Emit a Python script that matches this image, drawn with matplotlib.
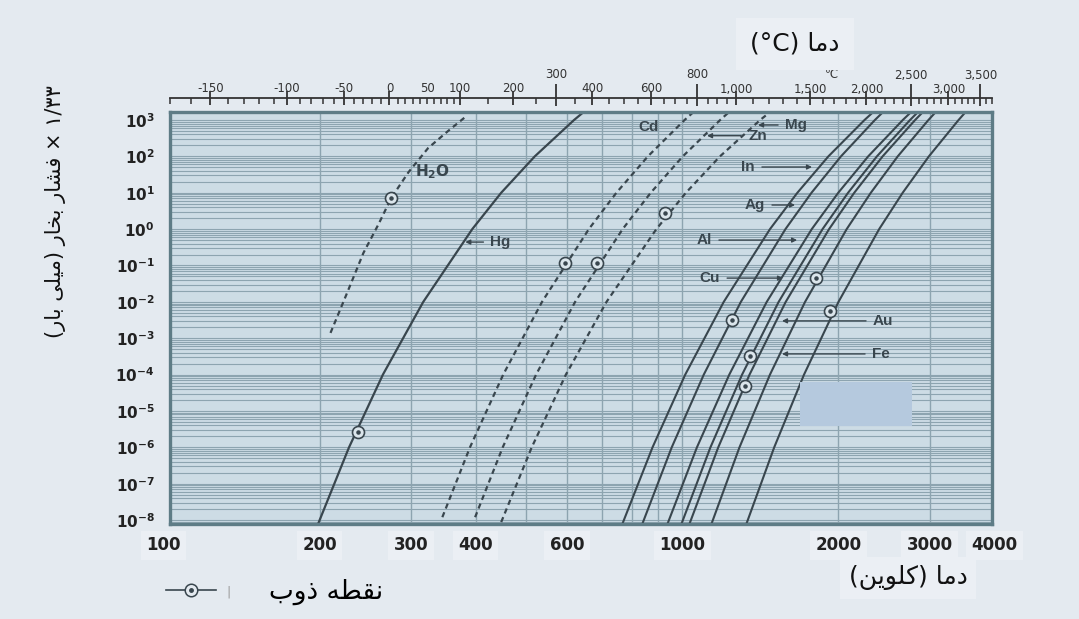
import matplotlib
matplotlib.use('Agg')
import matplotlib.pyplot as plt
from matplotlib.lines import Line2D
from matplotlib.patches import Rectangle
from matplotlib.ticker import NullLocator, LogLocator
from matplotlib.transforms import blended_transform_factory

# vapour pressure curves, T in kelvin, p in mbar
h2o_T = [210, 226, 243, 260, 275, 297, 324, 354, 382]
h2o_P = [1.4e-3, 1.75e-2, 0.22, 1.38, 7.2, 37, 170, 500, 1210]
hg_T = [199, 228, 265, 317, 394, 448, 520, 619, 646]
hg_P = [8.2e-9, 1e-6, 1e-4, 1e-2, 1, 10, 100, 1000, 1660]
cd_T = [345, 390, 452, 537, 661, 747, 859, 1011, 1052]
cd_P = [1.2e-8, 1e-6, 1e-4, 1e-2, 1, 10, 100, 1000, 1660]
zn_T = [399, 451, 523, 622, 768, 870, 1003, 1184, 1232]
zn_P = [1.2e-8, 1e-6, 1e-4, 1e-2, 1, 10, 100, 1000, 1660]
mg_T = [448, 513, 597, 715, 892, 1017, 1183, 1414, 1478]
mg_P = [8.8e-9, 1e-6, 1e-4, 1e-2, 1, 10, 100, 1000, 1660]

# metals (solid lines), all read at the same pressures
metal_P = [7.8e-9, 1e-6, 1e-4, 1e-2, 1, 10, 100, 1000, 1660]
in_T = [767, 877, 1014, 1203, 1477, 1668, 1914, 2247, 2336]
ag_T = [838, 955, 1101, 1298, 1582, 1776, 2024, 2353, 2440]
al_T = [937, 1068, 1233, 1456, 1778, 2000, 2284, 2663, 2764]
cu_T = [997, 1134, 1305, 1535, 1865, 2089, 2374, 2750, 2849]
au_T = [1033, 1174, 1349, 1584, 1920, 2147, 2435, 2813, 2912]
fe_T = [1139, 1290, 1477, 1726, 2076, 2311, 2604, 2984, 3083]
ti_T = [1330, 1505, 1718, 2002, 2398, 2662, 2990, 3411, 3520]

# melting points (circled dots)
melt_T = [275, 237, 595, 686, 927, 1248, 1352, 1323, 1812, 1928]
melt_P = [7.0, 2.6e-6, 0.12, 0.12, 2.8, 3.2e-3, 3.2e-4, 5.0e-5, 0.045, 5.6e-3]

kelvin_ticks = [100, 200, 300, 400, 600, 1000, 2000, 3000, 4000]
grid_T = [200, 300, 400, 500, 600, 700, 800, 900, 1000, 2000, 3000]
p_decades = [-8, -7, -6, -5, -4, -3, -2, -1, 0, 1, 2, 3]

# celsius scale on top
c_row1 = [-150, -100, -50, 0, 50, 100, 200, 400, 600, 1000, 1500, 2000, 3000]
c_row2 = [300, 800, 2500, 3500]
c_major = [-150, -100, -50, 0, 100, 200, 400, 600, 1000, 1500, 2000, 3000]
c_minor = ([c for c in range(-170, 100, 10)] + [c for c in range(150, 1000, 50)]
           + [c for c in range(1100, 3800, 100)])
c_minor = [c for c in c_minor if c not in c_major and c not in c_row2]

BG = '#e4eaf0'
PANEL = '#cddce5'
DARK = '#39464e'
GRID = '#8da4b0'
FRAME = '#5e7c86'

# persian letters: isolated, final, initial, medial
FORMS = {
    'ا': ('\uFE8D', '\uFE8E', None, None),
    'ب': ('\uFE8F', '\uFE90', '\uFE91', '\uFE92'),
    'خ': ('\uFEA5', '\uFEA6', '\uFEA7', '\uFEA8'),
    'د': ('\uFEA9', '\uFEAA', None, None),
    'ذ': ('\uFEAB', '\uFEAC', None, None),
    'ر': ('\uFEAD', '\uFEAE', None, None),
    'ش': ('\uFEB5', '\uFEB6', '\uFEB7', '\uFEB8'),
    'ط': ('\uFEC1', '\uFEC2', '\uFEC3', '\uFEC4'),
    'ف': ('\uFED1', '\uFED2', '\uFED3', '\uFED4'),
    'ق': ('\uFED5', '\uFED6', '\uFED7', '\uFED8'),
    'ل': ('\uFEDD', '\uFEDE', '\uFEDF', '\uFEE0'),
    'م': ('\uFEE1', '\uFEE2', '\uFEE3', '\uFEE4'),
    'ن': ('\uFEE5', '\uFEE6', '\uFEE7', '\uFEE8'),
    'ه': ('\uFEE9', '\uFEEA', '\uFEEB', '\uFEEC'),
    'و': ('\uFEED', '\uFEEE', None, None),
    'ی': ('\uFBFC', '\uFBFD', '\uFBFE', '\uFBFF'),
    'ک': ('\uFB8E', '\uFB8F', '\uFB90', '\uFB91'),
}


def fa(word):
    # join the letters of one word and put them in visual order
    out = []
    for i, ch in enumerate(word):
        iso, fin, ini, med = FORMS[ch]
        prev = i > 0 and FORMS[word[i - 1]][2] is not None
        nxt = i < len(word) - 1 and ini is not None
        if prev and nxt:
            out.append(med)
        elif prev:
            out.append(fin)
        elif nxt:
            out.append(ini)
        else:
            out.append(iso)
    return ''.join(reversed(out))


W, H = 1079, 619
fig = plt.figure(figsize=(W / 100, H / 100), dpi=100, facecolor=BG)

ax = fig.add_axes([170 / W, 1 - 524 / H, 822 / W, 412 / H])
ax.set_xscale('log')
ax.set_yscale('log')
ax.set_xlim(103, 3957)
ax.set_ylim(7.8e-9, 1.66e3)
ax.set_facecolor(PANEL)

ax.set_xticks(grid_T)
ax.xaxis.set_minor_locator(NullLocator())
ax.set_yticks([10.0 ** e for e in p_decades])
ax.set_yticklabels([r'$\mathbf{10^{%d}}$' % e for e in p_decades])
ax.yaxis.set_minor_locator(LogLocator(base=10, subs=range(2, 10), numticks=30))
ax.tick_params(axis='x', which='both', length=0, labelbottom=False)
ax.tick_params(axis='y', which='both', length=0, pad=11, labelsize=11, labelcolor='#222')
ax.grid(axis='x', which='major', color=GRID, lw=1.0)
ax.grid(axis='y', which='both', color=GRID, lw=0.8)
ax.set_axisbelow(True)
for s in ax.spines.values():
    s.set_color(FRAME)
    s.set_linewidth(2.4)

dash = (0, (2.4, 1.8))
ax.plot(h2o_T, h2o_P, color=DARK, lw=1.6, ls=dash)
ax.plot(hg_T, hg_P, color=DARK, lw=1.6)
ax.plot(cd_T, cd_P, color=DARK, lw=1.6, ls=dash)
ax.plot(zn_T, zn_P, color=DARK, lw=1.6, ls=dash)
ax.plot(mg_T, mg_P, color=DARK, lw=1.6, ls=dash)
for t in [in_T, ag_T, al_T, cu_T, au_T, fe_T, ti_T]:
    ax.plot(t, metal_P, color=DARK, lw=1.5)

ax.scatter(melt_T, melt_P, s=75, facecolor='#dbe5eb', edgecolor=DARK, lw=1.2, zorder=5)
ax.scatter(melt_T, melt_P, s=5, color=DARK, zorder=6)

ax.add_patch(Rectangle((0.766, 0.238), 0.137, 0.107, transform=ax.transAxes,
                       facecolor='#b5c9de', edgecolor='none', zorder=4))

lab = dict(fontsize=11, fontweight='bold', color=DARK, family='Liberation Sans', va='center')
arw = dict(arrowstyle='-|>', color=DARK, lw=1.0, mutation_scale=7, shrinkA=3, shrinkB=0)
ax.text(331, 37, r'$\mathbf{H_2O}$', ha='center', fontsize=11, color=DARK, va='center')
ax.text(860, 640, 'Cd', ha='center', **lab)
ax.annotate('Hg', xy=(382, 0.44), xytext=(427, 0.44), ha='left', arrowprops=arw, **lab)
ax.annotate('Zn', xy=(1117, 370), xytext=(1340, 370), ha='left', arrowprops=arw, **lab)
ax.annotate('Mg', xy=(1401, 730), xytext=(1579, 730), ha='left', arrowprops=arw, **lab)
ax.annotate('In', xy=(1780, 51), xytext=(1382, 51), ha='right', arrowprops=arw, **lab)
ax.annotate('Ag', xy=(1651, 4.6), xytext=(1445, 4.6), ha='right', arrowprops=arw, **lab)
ax.annotate('Al', xy=(1666, 0.5), xytext=(1142, 0.5), ha='right', arrowprops=arw, **lab)
ax.annotate('Cu', xy=(1565, 0.045), xytext=(1184, 0.045), ha='right', arrowprops=arw, **lab)
ax.annotate('Au', xy=(1558, 3.0e-3), xytext=(2333, 3.0e-3), ha='left', arrowprops=arw, **lab)
ax.annotate('Fe', xy=(1558, 3.7e-4), xytext=(2323, 3.7e-4), ha='left', arrowprops=arw, **lab)

# kelvin labels under the panel
box = dict(facecolor='#ebeff4', edgecolor='none', pad=4)
trb = blended_transform_factory(ax.transData, ax.transAxes)
for k in kelvin_ticks:
    ax.text(k, -0.052, str(k), transform=trb, ha='center', va='center', fontsize=12,
            fontweight='bold', color='#222', bbox=box)

# celsius scale
axt = fig.add_axes([170 / W, 1 - 98 / H, 822 / W, 0.0001])
axt.set_xscale('log')
axt.set_xlim(103, 3957)
axt.patch.set_visible(False)
for side in ['top', 'left', 'right']:
    axt.spines[side].set_visible(False)
axt.spines['bottom'].set_color('#333')
axt.spines['bottom'].set_linewidth(1.3)
axt.set_yticks([])
axt.set_xticks([c + 273.15 for c in c_major])
axt.set_xticks([c + 273.15 for c in c_minor], minor=True)
axt.tick_params(which='both', labelbottom=False, colors='#333')
axt.tick_params(which='major', direction='inout', length=10, width=1.3)
axt.tick_params(which='minor', direction='out', length=4.5, width=1.1)
trt = blended_transform_factory(axt.transData, fig.transFigure)
axt.vlines([c + 273.15 for c in c_row2], 1 - 106 / H, 1 - 84 / H, color='#333', lw=1.3,
           transform=trt, clip_on=False)
for c in c_row1:
    axt.text(c + 273.15, 1 - 89 / H, f'{c:,}', transform=trt, ha='center', va='center',
             fontsize=8.5, color='#333')
for c in c_row2:
    axt.text(c + 273.15, 1 - 75 / H, f'{c:,}', transform=trt, ha='center', va='center',
             fontsize=8.5, color='#333')
axt.text(1945, 1 - 74 / H, '℃', transform=trt, ha='center', va='center', fontsize=8.5,
         color='#333')

# titles
big = dict(color='#111', family='DejaVu Sans', va='center')
fig.text(795 / W, 1 - 44 / H, '(°C) ' + fa('دما'), ha='center', fontsize=18,
         bbox=dict(facecolor='#ebeff4', edgecolor='none', pad=10), **big)
fig.text(908 / W, 1 - 578 / H, '(' + fa('کلوین') + ') ' + fa('دما'), ha='center',
         fontsize=18, bbox=dict(facecolor='#ebeff4', edgecolor='none', pad=6), **big)
ylab = ('(' + fa('بار') + ' ' + fa('میلی') + ') ' + fa('بخار') + ' ' + fa('فشار')
        + ' × ۱/۳۳')
fig.text(55 / W, 1 - 212 / H, ylab, rotation=90, ha='center', fontsize=15, **big)

# legend for the melting point symbol
h1 = Line2D([], [], color=DARK, lw=1.2, marker='o', ms=9, mfc=BG, mec=DARK, mew=1.1)
h2 = Line2D([], [], ls='none', marker='o', ms=2.5, color=DARK)
fig.legend([(h1, h2)], [fa('ذوب') + ' ' + fa('نقطه')], loc='center left',
           bbox_to_anchor=(166 / W, 1 - 592 / H), frameon=False, prop={'size': 19},
           handlelength=1.9, handletextpad=2.0, borderpad=0, borderaxespad=0)
fig.text(228 / W, 1 - 592 / H, '|', color='#999', fontsize=9, ha='center', va='center')

fig.savefig('out.png', dpi=100, facecolor=BG)
